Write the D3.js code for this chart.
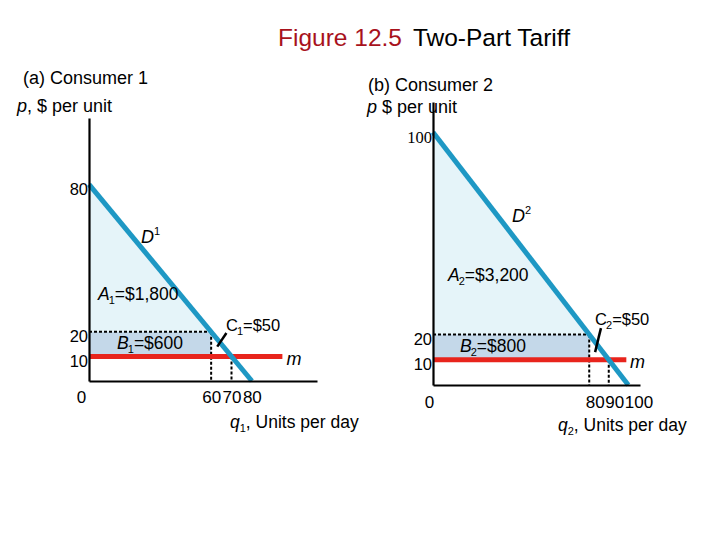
<!DOCTYPE html>
<html>
<head>
<meta charset="utf-8">
<script src="https://cdn.jsdelivr.net/npm/d3@7"></script>
<style>
  body { margin: 0; background: #fff; }
  svg { display: block; font-family: "Liberation Sans", Arial, sans-serif; }
</style>
</head>
<body>
<div id="chart"></div>
<script>
/* Figure 12.5 Two-Part Tariff */

// datos
var demand1 = [{q: 0, p: 80}, {q: 80, p: 0}];
var demand2 = [{q: 0, p: 100}, {q: 100, p: 0}];
var marginalCost = 10;
var fee = 20;
var mcEnd = [95, 99];            // hasta donde llega la linea m
var qAtFee = [60, 80];           // cantidad comprada con p = 20
var qAtCost = [70, 90];          // cantidad comprada con p = m
var yTicks1 = [80, 20, 10];
var yTicks2 = [100, 20, 10];
var xTicks1 = [0, 60, 70, 80];
var xTicks2 = [0, 80, 90, 100];
var areaA = ["$1,800", "$3,200"];
var areaB = ["$600", "$800"];
var areaC = ["$50", "$50"];

var W = 720, H = 540;
var svg = d3.select("#chart").append("svg")
    .attr("width", W).attr("height", H);

// titulo
var title = svg.append("text")
    .attr("x", 278).attr("y", 46)
    .style("font-size", "24.5px");
title.append("tspan").attr("fill", "#a8121c").text("Figure 12.5");
title.append("tspan").attr("fill", "#000").attr("dx", 11).text("Two-Part Tariff");

// escalas de cada panel
var xL = d3.scaleLinear().domain([0, 112]).range([89, 317]),
    yL = d3.scaleLinear().domain([0, 107]).range([381, 118]),
    xR = d3.scaleLinear().domain([0, 106]).range([433, 640]),
    yR = d3.scaleLinear().domain([0, 112]).range([385, 102]);

var panels = [
  {x: xL, y: yL, demand: demand1, yTicks: yTicks1, xTicks: xTicks1, i: 0, n: "1",
   name: "(a) Consumer 1", nameAt: [23, 84], pLabel: ", $ per unit", pAt: [17, 112],
   zero: [-8, 22], xOff: 22, xAnchor: "middle", xDx: 0,
   qAt: [230, 428],
   lab: {D: [25.5, 56], A: [4.4, 33], B: [13.8, 13], C: [67.3, 20.3], m: [97, 6.5],
         ptr: [[63, 14], [67.5, 19.5]]}},
  {x: xR, y: yR, demand: demand2, yTicks: yTicks2, xTicks: xTicks2, i: 1, n: "2",
   name: "(b) Consumer 2", nameAt: [368, 91], pLabel: " $ per unit", pAt: [367, 113],
   zero: [-4, 23], xOff: 23, xAnchor: "start", xDx: -4,
   qAt: [558, 431],
   lab: {D: [40.4, 64.5], A: [7.7, 41.2], B: [13.8, 13.1], C: [83, 23.7], m: [100.9, 6.7],
         ptr: [[83, 13], [86, 22.5]]}}
];

panels.forEach(function(P) {
  var x = P.x, y = P.y, i = P.i;
  var g = svg.append("g");
  var pMax = P.demand[0].p;
  var line = d3.line().x(function(d) { return x(d.q); }).y(function(d) { return y(d.p); });

  // area A (triangulo claro)
  g.append("path")
    .datum([{q: 0, p: fee}, {q: 0, p: pMax}, {q: qAtFee[i], p: fee}])
    .attr("d", line)
    .attr("fill", "#e5f4f9");

  // area B
  g.append("rect")
    .attr("x", x(0)).attr("y", y(fee))
    .attr("width", x(qAtFee[i]) - x(0))
    .attr("height", y(marginalCost) - y(fee))
    .attr("fill", "#c4d8e9");

  // lineas punteadas
  var dots = [
    [{q: 0, p: fee}, {q: qAtFee[i], p: fee}],
    [{q: qAtFee[i], p: fee}, {q: qAtFee[i], p: 0}],
    [{q: qAtCost[i], p: marginalCost}, {q: qAtCost[i], p: 0}]
  ];
  g.selectAll(".dot").data(dots).enter().append("path")
    .attr("d", line)
    .attr("fill", "none").attr("stroke", "#000")
    .attr("stroke-width", 2).attr("stroke-dasharray", "3,2");

  // linea m
  g.append("line")
    .attr("x1", x(0)).attr("x2", x(mcEnd[i]))
    .attr("y1", y(marginalCost)).attr("y2", y(marginalCost))
    .attr("stroke", "#e8241c").attr("stroke-width", 5);

  // demanda
  g.append("path")
    .datum(P.demand)
    .attr("d", line)
    .attr("stroke", "#1e98c4").attr("stroke-width", 5).attr("fill", "none");

  // ejes
  var ax = g.append("g")
    .attr("transform", "translate(" + x(0) + ",0)")
    .call(d3.axisLeft(y).tickValues(P.yTicks).tickSize(0).tickSizeOuter(0));
  ax.select(".domain").attr("stroke-width", 2.2);
  ax.selectAll("text")
    .attr("x", -1).attr("dy", 10)
    .style("font-size", "16.5px")
    .style("font-family", function(d) { return d === 100 ? "Liberation Serif" : null; })
    .attr("fill", "#000");

  var bx = g.append("g")
    .attr("transform", "translate(0," + y(0) + ")")
    .call(d3.axisBottom(x).tickValues(P.xTicks).tickSize(0).tickSizeOuter(0));
  bx.select(".domain").attr("stroke-width", 2.2);
  bx.selectAll("text")
    .attr("y", P.xOff).attr("dy", 0)
    .style("font-size", "17px").attr("fill", "#000")
    .attr("text-anchor", function(d) { return d === 0 ? "middle" : P.xAnchor; })
    .attr("dx", function(d) { return d === 0 ? P.zero[0] : P.xDx; });

  // textos del panel
  g.append("text").attr("x", P.nameAt[0]).attr("y", P.nameAt[1])
    .style("font-size", "18px").text(P.name);
  var pt = g.append("text").attr("x", P.pAt[0]).attr("y", P.pAt[1]).style("font-size", "18px");
  pt.append("tspan").style("font-style", "italic").text("p");
  pt.append("tspan").text(P.pLabel);

  var qt = g.append("text").attr("x", P.qAt[0]).attr("y", P.qAt[1]).style("font-size", "17.5px");
  qt.append("tspan").style("font-style", "italic").text("q");
  qt.append("tspan").attr("dy", 4).style("font-size", "11px").text(P.n);
  qt.append("tspan").attr("dy", -4).text(", Units per day");

  // etiquetas de areas
  var L = P.lab;
  function sub(t, letter, val, italic) {
    t.append("tspan").style("font-style", italic ? "italic" : "normal").text(letter);
    t.append("tspan").attr("dy", 4).attr("dx", -1).style("font-size", "11px").text(P.n);
    t.append("tspan").attr("dy", -4).text("=" + val);
  }
  var d = g.append("text").attr("x", x(L.D[0])).attr("y", y(L.D[1])).style("font-size", "18px");
  d.append("tspan").style("font-style", "italic").text("D");
  d.append("tspan").attr("dy", -8).style("font-size", "11px").text(P.n);

  sub(g.append("text").attr("x", x(L.A[0])).attr("y", y(L.A[1])).style("font-size", "17.5px"),
      "A", areaA[i], true);
  sub(g.append("text").attr("x", x(L.B[0])).attr("y", y(L.B[1])).style("font-size", "17.5px"),
      "B", areaB[i], true);
  sub(g.append("text").attr("x", x(L.C[0])).attr("y", y(L.C[1])).style("font-size", "16.5px"),
      "C", areaC[i], false);

  g.append("text").attr("x", x(L.m[0])).attr("y", y(L.m[1]))
    .style("font-size", "18px").style("font-style", "italic").text("m");

  // flecha de C
  g.append("line")
    .attr("x1", x(L.ptr[0][0])).attr("y1", y(L.ptr[0][1]))
    .attr("x2", x(L.ptr[1][0])).attr("y2", y(L.ptr[1][1]))
    .attr("stroke", "#000").attr("stroke-width", 2.5);
});
</script>
</body>
</html>
